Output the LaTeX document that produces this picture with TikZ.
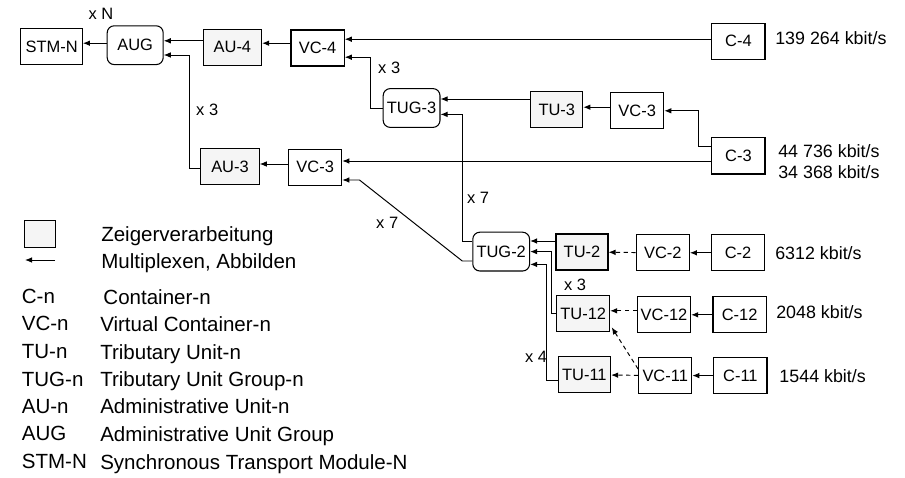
\documentclass[tikz,border=0pt]{standalone}
\usepackage{fontspec}
\setmainfont{Liberation Sans}
\usetikzlibrary{arrows.meta}
\tikzset{
  box/.style  = {rectangle, draw, line width=0.75pt, minimum width=13.3mm, minimum height=9mm, inner sep=0, font=\fontsize{11.7}{14}\selectfont},
  zv/.style   = {box, fill=gray!8},
  grp/.style  = {box, rounded corners=5pt, minimum width=14.2mm, minimum height=9.7mm},
  link/.style = {line width=0.7pt, -{Latex[length=5pt,width=4pt]}},
  map/.style  = {link, dash pattern=on 3pt off 2.5pt},
  et/.style   = {font=\fontsize{11.7}{14}\selectfont},
  rate/.style = {anchor=west, align=left, inner sep=0, font=\fontsize{12.7}{14.9}\selectfont},
  leg/.style  = {anchor=base west, inner sep=0, font=\fontsize{14.6}{17}\selectfont}
}
\begin{document}
\begin{tikzpicture}
  \useasboundingbox (0,0) rectangle (22.625,-11.95);
  % obere Reihe
  \node[box, minimum width=15.4mm] (stm) at (1.29,-1.16) {STM-N};
  \node[grp, minimum width=14mm] (aug) at (3.38,-1.13) {AUG};
  \node[zv, minimum width=14.6mm] (au4) at (5.81,-1.18) {AU-4};
  \node[box] (vc4) at (7.94,-1.2) {VC-4};
  \node[box] (c4) at (18.46,-1.03) {C-4};
  \node[grp] (tug3) at (10.29,-2.7) {TUG-3};
  \node[zv, minimum width=13mm] (tu3) at (13.92,-2.74) {TU-3};
  \node[box] (vc3b) at (15.93,-2.77) {VC-3};
  \node[box, minimum height=9.2mm] (c3) at (18.46,-3.89) {C-3};
  \node[zv, minimum width=14.6mm] (au3) at (5.75,-4.16) {AU-3};
  \node[box] (vc3a) at (7.88,-4.18) {VC-3};
  % untere Reihe
  \node[grp] (tug2) at (12.53,-6.29) {TUG-2};
  \node[zv, minimum width=13mm] (tu2) at (14.55,-6.3) {TU-2};
  \node[box] (vc2) at (16.57,-6.32) {VC-2};
  \node[box] (c2) at (18.45,-6.32) {C-2};
  \node[zv, minimum width=13.2mm] (tu12) at (14.58,-7.84) {TU-12};
  \node[box] (vc12) at (16.6,-7.86) {VC-12};
  \node[box] (c12) at (18.49,-7.87) {C-12};
  \node[zv, minimum width=13.1mm] (tu11) at (14.61,-9.37) {TU-11};
  \node[box] (vc11) at (16.63,-9.39) {VC-11};
  \node[box] (c11) at (18.51,-9.39) {C-11};

  % Multiplexen, Abbilden
  \draw[link] ([yshift=0.05cm]aug.west) -- ([yshift=0.05cm]aug.west -| stm.east);
  \draw[link] ([yshift=0.16cm]au4.west) -- ([yshift=0.16cm]au4.west -| aug.east);
  \draw[link] ([yshift=0.12cm]vc4.west) -- ([yshift=0.12cm]vc4.west -| au4.east);
  \draw[link] ([yshift=0.05cm]c4.west) -- ([yshift=0.05cm]c4.west -| vc4.east);
  \draw[link] (tug3.west) -- ++(-0.31,0) |- ([yshift=-0.23cm]vc4.east);
  \draw[link] ([yshift=-0.05cm]au3.west) -- ++(-0.275,0) |- ([yshift=-0.245cm]aug.east);
  \draw[link] ([yshift=0.265cm]tu3.west) -- ([yshift=0.265cm]tu3.west -| tug3.east);
  \draw[link] ([yshift=0.09cm]vc3b.west) -- ([yshift=0.09cm]vc3b.west -| tu3.east);
  \draw[link] ([yshift=0.24cm]c3.west) -- ++(-0.33,0) |- (vc3b.east);
  \draw[link] ([yshift=-0.135cm]c3.west) -- ([yshift=-0.135cm]c3.west -| vc3a.east);
  \draw[link] ([yshift=0.08cm]vc3a.west) -- ([yshift=0.08cm]vc3a.west -| au3.east);
  \draw[link] ([yshift=0.25cm]tug2.west) -- ++(-0.25,0) |- ([yshift=-0.16cm]tug3.east);
  \draw[link] ([yshift=-0.235cm]tug2.west) -- ++(-0.25,0) -- ++(-2.57,2.025) -- ([yshift=-0.32cm]vc3a.east);
  \draw[link] ([yshift=0.275cm]tu2.west) -- ([yshift=0.275cm]tu2.west -| tug2.east);
  \draw[link] (tu12.west) -- ++(-0.11,0) |- (tug2.east);
  \draw[link] ([yshift=-0.13cm]tu11.west) -- ++(-0.27,0) |- ([yshift=-0.32cm]tug2.east);
  \draw[map] (vc2) -- (tu2);
  \draw[link] (c2) -- (vc2);
  \draw[map] ([yshift=0.09cm]vc12.west) -- ([yshift=0.09cm]vc12.west -| tu12.east);
  \draw[link] (c12.west) -- (c12.west -| vc12.east);
  \draw[map] (vc11) -- (tu11);
  \draw[link] (c11) -- (vc11);
  \draw[map] ([yshift=0.165cm]vc11.west) -- ([xshift=0.04cm,yshift=0.12cm]tu12.south east);

  % Faktoren
  \node[et] (xn) at (2.525,-0.35) {x N};
  \node[et] (x3a) at (9.73,-1.7) {x 3};
  \node[et] (x3b) at (5.18,-2.75) {x 3};
  \node[et] (x7a) at (11.95,-4.95) {x 7};
  \node[et] (x7b) at (9.68,-5.58) {x 7};
  \node[et] (x3c) at (14.375,-7.125) {x 3};
  \node[et] (x4) at (13.4,-8.93) {x 4};

  % Bitraten
  \node[rate] (r4) at (19.375,-0.96) {139 264 kbit/s};
  \node[rate] (r3) at (19.45,-4.03) {44 736 kbit/s\\34 368 kbit/s};
  \node[rate] (r2) at (19.375,-6.32) {6312 kbit/s};
  \node[rate] (r12) at (19.4,-7.81) {2048 kbit/s};
  \node[rate] (r11) at (19.48,-9.4) {1544 kbit/s};

  % Legende
  \node[zv, minimum width=7.8mm, minimum height=6.9mm, line width=0.7pt] (lz) at (0.99,-5.845) {};
  \coordinate (la) at (1.375,-6.5); \coordinate (lb) at (0.625,-6.5); \draw[link] (la) -- (lb);
  \node[leg] (tz) at (2.525,-6.04) {Zeigerverarbeitung};
  \node[leg] (tm) at (2.525,-6.71) {Multiplexen, Abbilden};
  \node[leg] (k1) at (0.54,-7.58) {C-n};    \node[leg] (d1) at (2.58,-7.61) {Container-n};
  \node[leg] (k2) at (0.54,-8.27) {VC-n};   \node[leg] (d2) at (2.5,-8.28) {Virtual Container-n};
  \node[leg] (k3) at (0.54,-8.97) {TU-n};   \node[leg] (d3) at (2.5,-8.98) {Tributary Unit-n};
  \node[leg] (k4) at (0.54,-9.65) {TUG-n};  \node[leg] (d4) at (2.5,-9.66) {Tributary Unit Group-n};
  \node[leg] (k5) at (0.54,-10.33) {AU-n};  \node[leg] (d5) at (2.5,-10.34) {Administrative Unit-n};
  \node[leg] (k6) at (0.54,-11.02) {AUG};   \node[leg] (d6) at (2.5,-11.03) {Administrative Unit Group};
  \node[leg] (k7) at (0.54,-11.72) {STM-N}; \node[leg] (d7) at (2.5,-11.73) {Synchronous Transport Module-N};
\end{tikzpicture}
\end{document}
